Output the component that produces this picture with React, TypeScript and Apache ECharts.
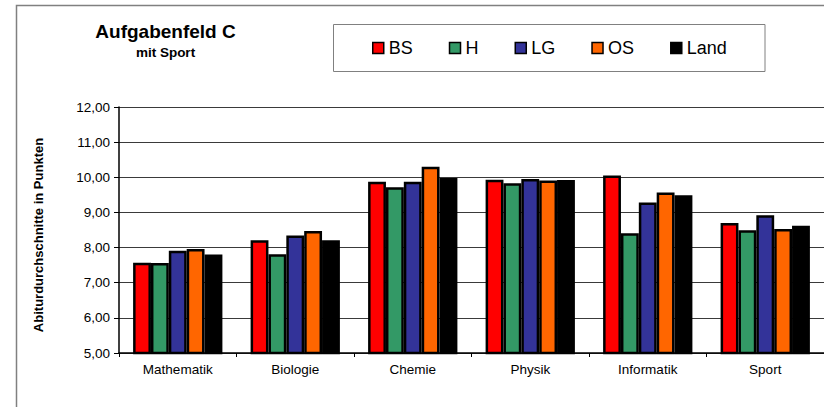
import React, { useEffect, useRef } from "react";
import * as echarts from "echarts";

const categories = ["Mathematik", "Biologie", "Chemie", "Physik", "Informatik", "Sport"];
const seriesNames = ["BS", "H", "LG", "OS", "Land"];
const bsValues = [7.57, 8.21, 9.87, 9.93, 10.05, 8.7];
const hValues = [7.56, 7.81, 9.72, 9.83, 8.41, 8.49];
const lgValues = [7.91, 8.34, 9.87, 9.95, 9.28, 8.92];
const osValues = [7.96, 8.47, 10.3, 9.91, 9.57, 8.53];
const landValues = [7.8, 8.21, 9.98, 9.92, 9.49, 8.62];
const seriesColors = ["#FF0000", "#339966", "#333399", "#FF6600", "#000000"];
const yTicks = { min: 5, max: 12, interval: 1 };

export default function App() {
  const ref = useRef<HTMLDivElement>(null);
  useEffect(() => {
    if (!ref.current) return;
    const chart = echarts.init(ref.current, undefined, { renderer: "svg" });
    const allValues = [bsValues, hValues, lgValues, osValues, landValues];
    chart.setOption({
      animation: false,
      backgroundColor: "#ffffff",
      textStyle: { fontFamily: "Liberation Sans, Arial, sans-serif" },
      graphic: [
        {
          type: "rect",
          shape: { x: 16.5, y: 5.5, width: 1000, height: 1000 },
          style: { fill: "none", stroke: "#808080", lineWidth: 1.5 },
          silent: true,
        },
        {
          type: "rect",
          shape: { x: 333.5, y: 24.5, width: 431.5, height: 47 },
          style: { fill: "none", stroke: "#808080", lineWidth: 1 },
          silent: true,
        },
        {
          type: "text",
          x: 165.5,
          y: 31.5,
          style: {
            text: "Aufgabenfeld C",
            font: "bold 19px 'Liberation Sans', Arial, sans-serif",
            fill: "#000",
            textAlign: "center",
            textVerticalAlign: "middle",
          },
        },
        {
          type: "text",
          x: 165.5,
          y: 52,
          style: {
            text: "mit Sport",
            font: "bold 13.5px 'Liberation Sans', Arial, sans-serif",
            fill: "#000",
            textAlign: "center",
            textVerticalAlign: "middle",
          },
        },
        {
          type: "text",
          x: 38,
          y: 235,
          rotation: Math.PI / 2,
          style: {
            text: "Abiturdurchschnitte in Punkten",
            font: "bold 13px 'Liberation Sans', Arial, sans-serif",
            fill: "#000",
            textAlign: "center",
            textVerticalAlign: "middle",
          },
        },
      ],
      legend: {
        data: seriesNames,
        left: 372,
        top: 39,
        padding: 0,
        itemGap: 36,
        itemWidth: 11,
        itemHeight: 11,
        icon: "rect",
        itemStyle: { borderColor: "#000", borderWidth: 1.5 },
        textStyle: { fontSize: 18, color: "#000", fontFamily: "Liberation Sans, Arial, sans-serif" },
      },
      grid: { left: 119, top: 107, width: 706, height: 246 },
      xAxis: {
        type: "category",
        data: categories,
        axisLine: { lineStyle: { color: "#000", width: 1.5 } },
        axisTick: { show: true, length: 4, lineStyle: { color: "#000" } },
        axisLabel: { color: "#000", fontSize: 13.5, margin: 9 },
      },
      yAxis: {
        type: "value",
        min: yTicks.min,
        max: yTicks.max,
        interval: yTicks.interval,
        axisLine: { show: true, lineStyle: { color: "#000", width: 1.5 } },
        axisTick: { show: true, length: 5, lineStyle: { color: "#000" } },
        axisLabel: {
          color: "#000",
          fontSize: 13.5,
          margin: 9,
          formatter: (v: number) => v.toFixed(2).replace(".", ","),
        },
        splitLine: { show: true, lineStyle: { color: "#3a3a3a", width: 1 } },
      },
      series: seriesNames.map((name, i) => ({
        name,
        type: "bar",
        data: allValues[i],
        barGap: "0%",
        barCategoryGap: "24%",
        itemStyle: { color: seriesColors[i], borderColor: "#000", borderWidth: 2.5 },
      })),
    });
    return () => chart.dispose();
  }, []);
  return (
    <div
      ref={ref}
      style={{ position: "fixed", left: 0, top: 0, width: 824, height: 407 }}
    />
  );
}
